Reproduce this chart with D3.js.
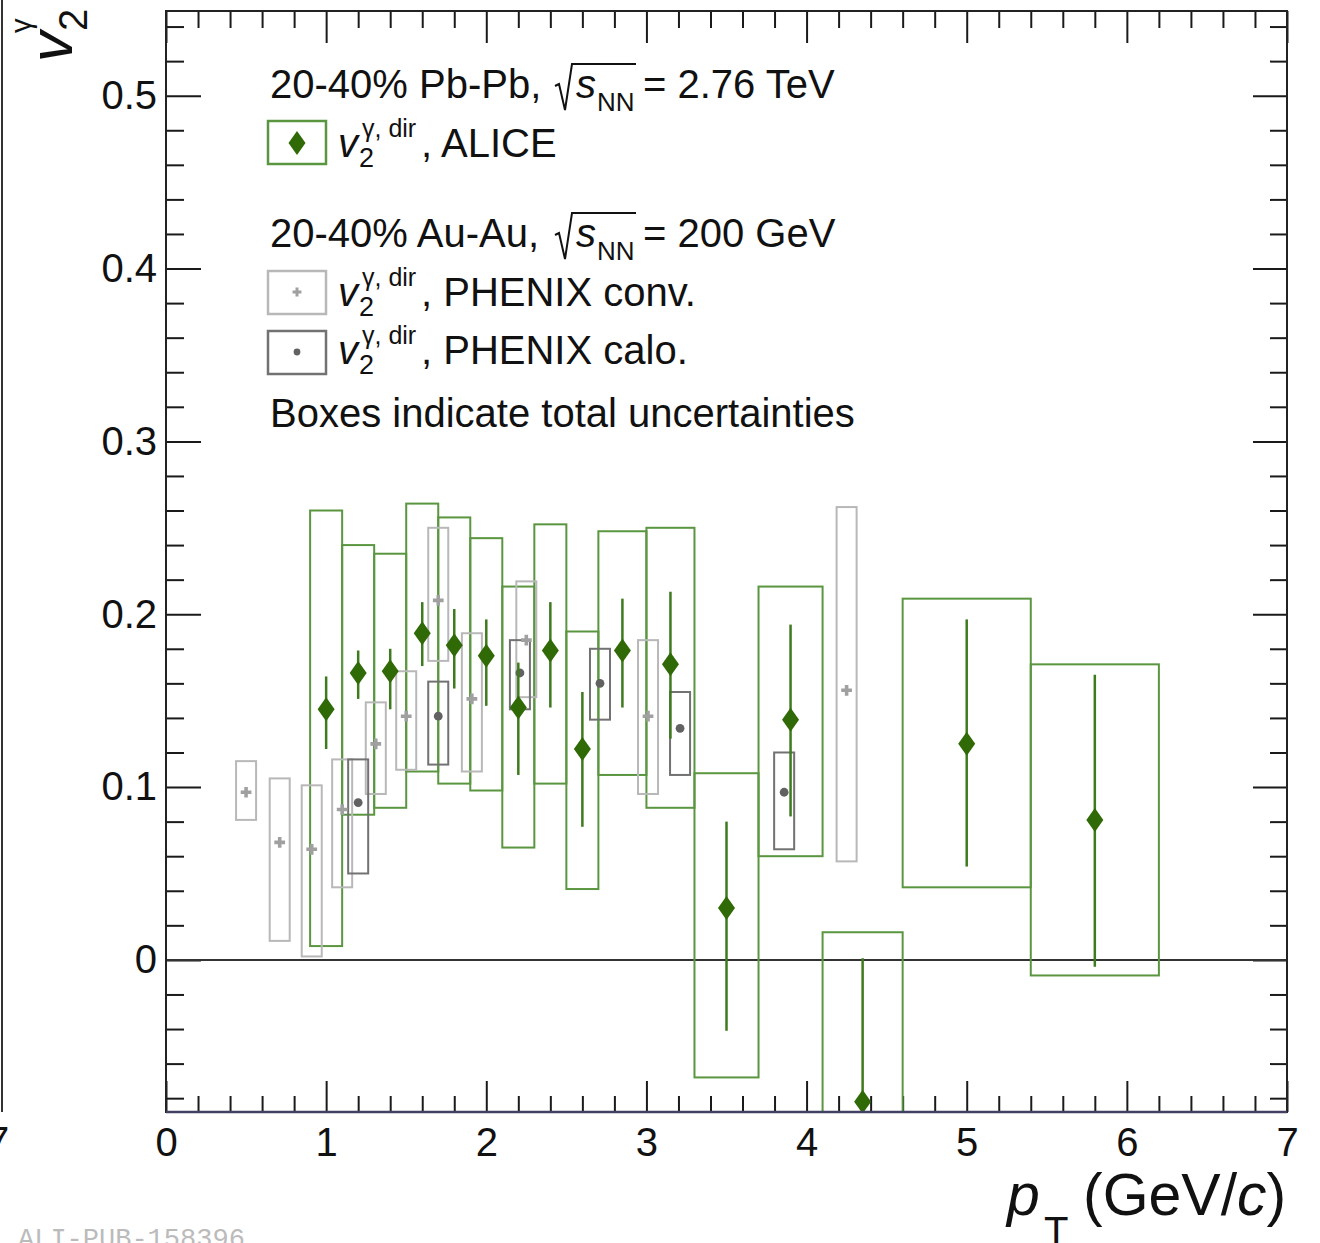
<!DOCTYPE html>
<html>
<head>
<meta charset="utf-8">
<script src="https://cdn.jsdelivr.net/npm/d3@7"></script>
<style>
  html, body { margin: 0; padding: 0; background: #fff; }
  svg { display: block; }
</style>
</head>
<body>
<svg id="chart" width="1320" height="1243"></svg>
<script>
// ---- ALICE direct-photon v2, 20-40% Pb-Pb ----
const alicePt       = [1.0, 1.2, 1.4, 1.6, 1.8, 2.0, 2.2, 2.4, 2.6, 2.85, 3.15, 3.5, 3.9, 4.35, 5.0, 5.8];
const aliceBinLow   = [0.9, 1.1, 1.3, 1.5, 1.7, 1.9, 2.1, 2.3, 2.5, 2.7, 3.0, 3.3, 3.7, 4.1, 4.6, 5.4];
const aliceBinHigh  = [1.1, 1.3, 1.5, 1.7, 1.9, 2.1, 2.3, 2.5, 2.7, 3.0, 3.3, 3.7, 4.1, 4.6, 5.4, 6.2];
const aliceV2       = [0.145, 0.166, 0.167, 0.189, 0.182, 0.176, 0.146, 0.179, 0.122, 0.179, 0.171, 0.030, 0.139, -0.082, 0.125, 0.081];
const aliceStatUp   = [0.019, 0.013, 0.013, 0.018, 0.021, 0.021, 0.026, 0.028, 0.033, 0.030, 0.042, 0.050, 0.055, 0.083, 0.072, 0.084];
const aliceStatDown = [0.023, 0.015, 0.022, 0.019, 0.025, 0.029, 0.039, 0.033, 0.045, 0.033, 0.043, 0.071, 0.056, 0.080, 0.071, 0.085];
const aliceTotLow   = [0.008, 0.084, 0.088, 0.109, 0.102, 0.098, 0.065, 0.102, 0.041, 0.107, 0.088, -0.068, 0.060, -0.180, 0.042, -0.009];
const aliceTotHigh  = [0.260, 0.240, 0.235, 0.264, 0.256, 0.244, 0.216, 0.252, 0.190, 0.248, 0.250, 0.108, 0.216, 0.016, 0.209, 0.171];

// ---- PHENIX direct-photon v2, 20-40% Au-Au, conversion method ----
const convPt      = [0.5, 0.71, 0.91, 1.1, 1.31, 1.5, 1.7, 1.91, 2.25, 3.01, 4.25];
const convV2      = [0.097, 0.068, 0.064, 0.087, 0.125, 0.141, 0.208, 0.151, 0.185, 0.141, 0.156];
const convTotLow  = [0.081, 0.011, 0.002, 0.042, 0.096, 0.110, 0.173, 0.109, 0.152, 0.096, 0.057];
const convTotHigh = [0.115, 0.105, 0.101, 0.116, 0.149, 0.167, 0.250, 0.189, 0.219, 0.185, 0.262];

// ---- PHENIX direct-photon v2, 20-40% Au-Au, calorimeter method ----
const caloPt      = [1.2, 1.7, 2.21, 2.71, 3.21, 3.86];
const caloV2      = [0.091, 0.141, 0.166, 0.160, 0.134, 0.097];
const caloTotLow  = [0.050, 0.113, 0.145, 0.139, 0.107, 0.064];
const caloTotHigh = [0.116, 0.161, 0.185, 0.180, 0.155, 0.120];

// ---- axis tick labels ----
const xTickLabels = [0, 1, 2, 3, 4, 5, 6, 7];
const yTickLabels = [0, 0.1, 0.2, 0.3, 0.4, 0.5];

// ---- layout and style ----
const FONT = '"Liberation Sans", Arial, Helvetica, sans-serif';
const W = 1320, H = 1243;
const frame = { left: 166, right: 1287, top: 11, bottom: 1112 };
const phenixHalfWidth = 0.0625;
const GREEN_BOX = "#5a9640", GREEN_BAR = "#3e7a1e", GREEN_MARK = "#2f6a06";
const CONV_BOX = "#b8b8b8", CONV_MARK = "#a0a0a0";
const CALO_BOX = "#727272", CALO_MARK = "#626262";

const x = d3.scaleLinear().domain([0, 7]).range([frame.left, frame.right]);
const y = d3.scaleLinear().domain([-0.088, 0.549]).range([frame.bottom, frame.top]);

const svg = d3.select("#chart").attr("font-family", FONT);
svg.append("rect").attr("width", W).attr("height", H).attr("fill", "#fff");

svg.append("defs").append("clipPath").attr("id", "plotClip")
  .append("rect")
  .attr("x", frame.left).attr("y", frame.top)
  .attr("width", frame.right - frame.left).attr("height", frame.bottom - frame.top);

// ---- neighbouring panel edge and publication id ----
svg.append("line").attr("x1", 2).attr("x2", 2).attr("y1", 0).attr("y2", frame.bottom)
  .attr("stroke", "#333").attr("stroke-width", 2);
svg.append("text").attr("x", -2).attr("y", 1155).attr("text-anchor", "middle")
  .attr("font-size", 40).attr("fill", "#111").text("7");
svg.append("text").attr("x", 18).attr("y", 1247)
  .attr("font-family", '"Liberation Mono", "DejaVu Sans Mono", monospace')
  .attr("font-size", 27).attr("fill", "#bbb").text("ALI-PUB-158396");

// ---- axes (ticks on all four sides, pointing inward) ----
const xMinor = d3.range(0, 36).filter(i => i % 5).map(i => i / 5);
const yMinor = d3.range(-4, 28).filter(i => i % 5).map(i => i / 50);

function styleAxis(g) {
  g.attr("font-family", FONT);
  g.select(".domain").remove();
  g.selectAll(".tick line").attr("stroke", "#1a1a1a").attr("stroke-width", 2);
  g.selectAll(".tick text").attr("font-size", 40).attr("fill", "#111");
}
const yFmt = d => d === 0 ? "0" : d3.format(".1f")(d);

svg.append("g").attr("transform", `translate(0,${frame.bottom})`)
  .call(d3.axisBottom(x).tickValues(xTickLabels).tickSize(-31).tickPadding(16).tickFormat(d3.format("d")))
  .call(styleAxis);
svg.append("g").attr("transform", `translate(0,${frame.bottom})`)
  .call(d3.axisBottom(x).tickValues(xMinor).tickSize(-16).tickFormat(""))
  .call(styleAxis);
svg.append("g").attr("transform", `translate(0,${frame.top})`)
  .call(d3.axisTop(x).tickValues(xTickLabels).tickSize(-32).tickFormat(""))
  .call(styleAxis);
svg.append("g").attr("transform", `translate(0,${frame.top})`)
  .call(d3.axisTop(x).tickValues(xMinor).tickSize(-17).tickFormat(""))
  .call(styleAxis);
svg.append("g").attr("transform", `translate(${frame.left},0)`)
  .call(d3.axisLeft(y).tickValues(yTickLabels).tickSize(-35).tickPadding(9).tickFormat(yFmt))
  .call(styleAxis);
svg.append("g").attr("transform", `translate(${frame.left},0)`)
  .call(d3.axisLeft(y).tickValues(yMinor).tickSize(-18).tickFormat(""))
  .call(styleAxis);
svg.append("g").attr("transform", `translate(${frame.right},0)`)
  .call(d3.axisRight(y).tickValues(yTickLabels).tickSize(-34).tickFormat(""))
  .call(styleAxis);
svg.append("g").attr("transform", `translate(${frame.right},0)`)
  .call(d3.axisRight(y).tickValues(yMinor).tickSize(-17).tickFormat(""))
  .call(styleAxis);

// zero reference line
svg.append("line")
  .attr("x1", x(0)).attr("x2", x(7)).attr("y1", y(0)).attr("y2", y(0))
  .attr("stroke", "#333").attr("stroke-width", 2);

// ---- data ----
const alice = alicePt.map((p, i) => ({
  p, lo: aliceBinLow[i], hi: aliceBinHigh[i], v: aliceV2[i],
  up: aliceStatUp[i], dn: aliceStatDown[i], tl: aliceTotLow[i], th: aliceTotHigh[i]
}));
const conv = convPt.map((p, i) => ({ p, v: convV2[i], tl: convTotLow[i], th: convTotHigh[i] }));
const calo = caloPt.map((p, i) => ({ p, v: caloV2[i], tl: caloTotLow[i], th: caloTotHigh[i] }));

const plot = svg.append("g").attr("clip-path", "url(#plotClip)");

// total-uncertainty boxes
plot.append("g").selectAll("rect").data(alice).join("rect")
  .attr("x", d => x(d.lo)).attr("width", d => x(d.hi) - x(d.lo))
  .attr("y", d => y(d.th)).attr("height", d => y(d.tl) - y(d.th))
  .attr("fill", "none").attr("stroke", GREEN_BOX).attr("stroke-width", 2);

function phenixBoxes(data, colour) {
  plot.append("g").selectAll("rect").data(data).join("rect")
    .attr("x", d => x(d.p - phenixHalfWidth))
    .attr("width", d => x(d.p + phenixHalfWidth) - x(d.p - phenixHalfWidth))
    .attr("y", d => y(d.th)).attr("height", d => y(d.tl) - y(d.th))
    .attr("fill", "none").attr("stroke", colour).attr("stroke-width", 2);
}
phenixBoxes(conv, CONV_BOX);
phenixBoxes(calo, CALO_BOX);

// PHENIX markers
const crossPath = d3.symbol(d3.symbolCross, 64)();
plot.append("g").selectAll("path").data(conv).join("path")
  .attr("transform", d => `translate(${x(d.p)},${y(d.v)})`)
  .attr("d", crossPath).attr("fill", CONV_MARK);
plot.append("g").selectAll("circle").data(calo).join("circle")
  .attr("cx", d => x(d.p)).attr("cy", d => y(d.v)).attr("r", 4.4)
  .attr("fill", CALO_MARK);

// ALICE statistical error bars and markers
plot.append("g").selectAll("line").data(alice).join("line")
  .attr("x1", d => x(d.p)).attr("x2", d => x(d.p))
  .attr("y1", d => y(d.v + d.up)).attr("y2", d => y(d.v - d.dn))
  .attr("stroke", GREEN_BAR).attr("stroke-width", 2.5);

const diamond = (cx, cy) => `M${cx},${cy - 12}L${cx + 8.5},${cy}L${cx},${cy + 12}L${cx - 8.5},${cy}Z`;
plot.append("g").selectAll("path").data(alice).join("path")
  .attr("d", d => diamond(x(d.p), y(d.v))).attr("fill", GREEN_MARK);

// frame
svg.append("rect")
  .attr("x", frame.left).attr("y", frame.top)
  .attr("width", frame.right - frame.left).attr("height", frame.bottom - frame.top)
  .attr("fill", "none").attr("stroke", "#222").attr("stroke-width", 2);
svg.append("line")
  .attr("x1", frame.left).attr("x2", frame.right).attr("y1", frame.bottom).attr("y2", frame.bottom)
  .attr("stroke", "#424063").attr("stroke-width", 2.5);

// ---- axis titles ----
const xt = svg.append("text").attr("y", 1215).attr("font-size", 59).attr("fill", "#111");
xt.append("tspan").attr("x", 1007).attr("font-style", "italic").text("p");
xt.append("tspan").attr("x", 1044).attr("y", 1245).attr("font-size", 40).text("T");
const xt2 = svg.append("text").attr("x", 1083).attr("y", 1215).attr("font-size", 59).attr("fill", "#111");
xt2.append("tspan").text("(GeV/");
xt2.append("tspan").attr("font-style", "italic").text("c");
xt2.append("tspan").text(")");

const yt = svg.append("g").attr("transform", "translate(72,62) rotate(-90)").attr("fill", "#111");
yt.append("text").attr("font-size", 61).attr("font-style", "italic").text("v");
yt.append("text").attr("x", 31).attr("y", 15).attr("font-size", 40).text("2");
yt.append("text").attr("x", 29).attr("y", -41).attr("font-size", 29).text("γ");

// ---- legend ----
const lg = svg.append("g").attr("fill", "#111");

function sqrtLabel(baseY, tail) {
  lg.append("text").attr("x", 270).attr("y", baseY).attr("font-size", 40).text(tail[0]);
  lg.append("path")
    .attr("d", `M555,${baseY - 12}L559,${baseY - 14}L565,${baseY + 12}L572,${baseY - 34}L636,${baseY - 34}`)
    .attr("fill", "none").attr("stroke", "#111").attr("stroke-width", 2);
  lg.append("text").attr("x", 576).attr("y", baseY).attr("font-size", 40).attr("font-style", "italic").text("s");
  lg.append("text").attr("x", 597).attr("y", baseY + 13).attr("font-size", 26).text("NN");
  lg.append("text").attr("x", 643).attr("y", baseY).attr("font-size", 40).text(tail[1]);
}
function v2Label(baseY, tail) {
  lg.append("text").attr("x", 338).attr("y", baseY).attr("font-size", 40).attr("font-style", "italic").text("v");
  lg.append("text").attr("x", 359).attr("y", baseY + 10).attr("font-size", 27).text("2");
  lg.append("text").attr("x", 362).attr("y", baseY - 20).attr("font-size", 25).text("γ, dir");
  lg.append("text").attr("x", 421).attr("y", baseY).attr("font-size", 40).text(tail);
}
function legendBox(top, colour) {
  lg.append("rect").attr("x", 268).attr("y", top).attr("width", 58).attr("height", 43)
    .attr("fill", "none").attr("stroke", colour).attr("stroke-width", 2.5);
}

sqrtLabel(98, ["20-40% Pb-Pb,", "= 2.76 TeV"]);
legendBox(121, GREEN_BOX);
lg.append("path").attr("d", diamond(297, 143)).attr("fill", GREEN_MARK);
v2Label(157, ", ALICE");

sqrtLabel(247, ["20-40% Au-Au,", "= 200 GeV"]);
legendBox(271, CONV_BOX);
lg.append("path").attr("transform", "translate(297,292)").attr("d", d3.symbol(d3.symbolCross, 44)()).attr("fill", CONV_MARK);
v2Label(306, ", PHENIX conv.");

legendBox(331, CALO_BOX);
lg.append("circle").attr("cx", 297).attr("cy", 352).attr("r", 3.4).attr("fill", CALO_MARK);
v2Label(364, ", PHENIX calo.");

lg.append("text").attr("x", 270).attr("y", 427).attr("font-size", 40).text("Boxes indicate total uncertainties");
</script>
</body>
</html>
